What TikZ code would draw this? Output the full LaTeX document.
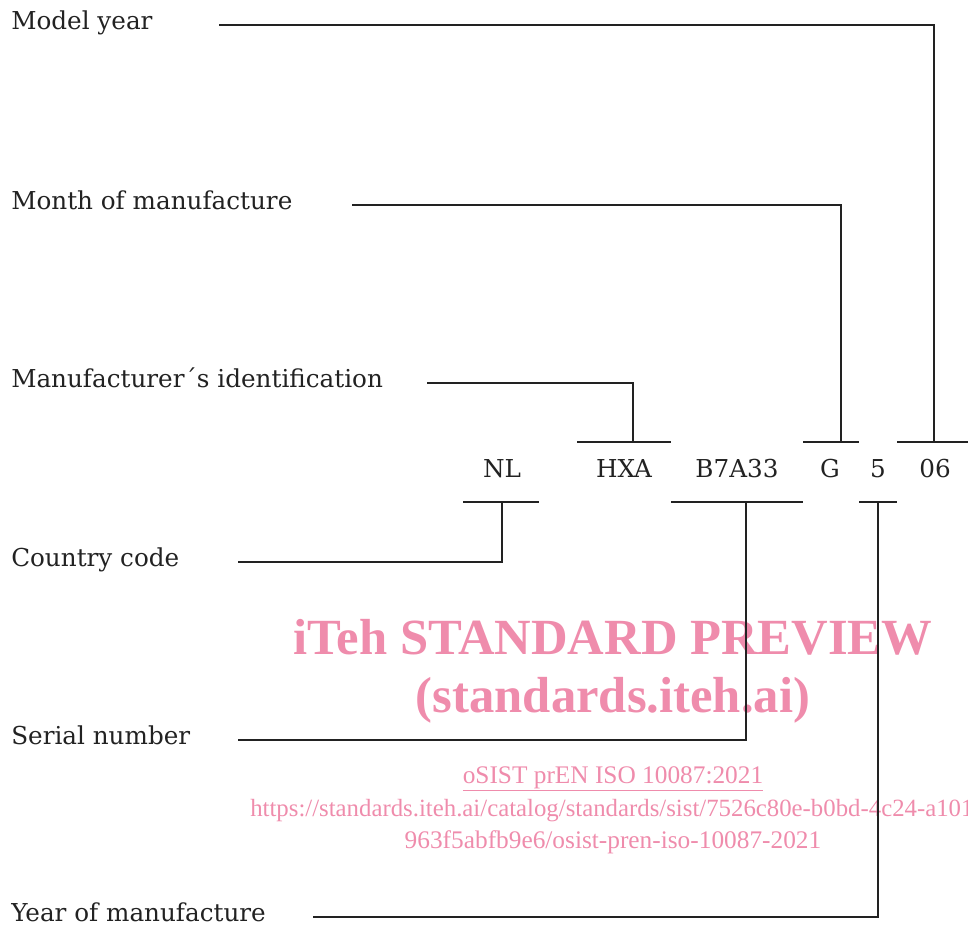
\documentclass[tikz,border=0pt]{standalone}
\usepackage{fontspec}
\setmainfont{DejaVu Serif}
\newfontfamily\wmfont{Liberation Serif}
\definecolor{wm}{RGB}{239,140,172}
\definecolor{ink}{RGB}{34,34,34}
\begin{document}
\begin{tikzpicture}[x=0.75pt,y=-0.75pt,
  lab/.style={anchor=base west,inner sep=0pt,text=ink,font=\fontsize{18.5pt}{22pt}\selectfont},
  code/.style={anchor=base,inner sep=0pt,text=ink,font=\fontsize{18.5pt}{22pt}\selectfont},
  wmbig/.style={anchor=base,inner sep=0pt,text=wm,font=\wmfont\bfseries\fontsize{38pt}{44pt}\selectfont},
  wmsmall/.style={inner sep=0pt,text=wm,font=\wmfont\fontsize{19pt}{22pt}\selectfont},
  ln/.style={draw=ink,line width=0.9pt}]
\useasboundingbox (0,0) rectangle (968,926);
% watermark
\node[wmbig] (w1) at (613,654) {iTeh STANDARD PREVIEW};
\node[wmbig] (w2) at (613,712) {(standards.iteh.ai)};
\node[wmsmall,anchor=base] (w3) at (613,783) {\underline{oSIST prEN ISO 10087:2021}};
\node[wmsmall,anchor=base west,font=\wmfont\fontsize{18.6pt}{22pt}\selectfont] (w4) at (250,816) {https://standards.iteh.ai/catalog/standards/sist/7526c80e-b0bd-4c24-a101-};
\node[wmsmall,anchor=base] (w5) at (613,848) {963f5abfb9e6/osist-pren-iso-10087-2021};
% labels
\node[lab] (my) at (11,29) {Model year};
\node[lab] (mm) at (11,209) {Month of manufacture};
\node[lab] (mi) at (11,387) {Manufacturer´s identification};
\node[lab] (cc) at (11,566) {Country code};
\node[lab] (sn) at (11,744) {Serial number};
\node[lab] (ym) at (11,921) {Year of manufacture};
% code
\node[code] (nl) at (502,477) {NL};
\node[code] (hxa) at (624,477) {HXA};
\node[code] (ser) at (737,477) {B7A33};
\node[code] (g) at (830,477) {G};
\node[code] (five) at (878,477) {5};
\node[code] (six) at (935,477) {06};
% bracket coordinates
\coordinate (hxaL) at (577,442); \coordinate (hxaR) at (671,442); \coordinate (hxaM) at (633,442);
\coordinate (gL) at (803,442); \coordinate (gR) at (859,442); \coordinate (gM) at (841,442);
\coordinate (sixL) at (897,442); \coordinate (sixR) at (968,442); \coordinate (sixM) at (934,442);
\coordinate (nlL) at (463,502); \coordinate (nlR) at (539,502); \coordinate (nlM) at (502,502);
\coordinate (serL) at (671,502); \coordinate (serR) at (803,502); \coordinate (serM) at (746,502);
\coordinate (fiveL) at (859,502); \coordinate (fiveR) at (897,502); \coordinate (fiveM) at (878,502);
% line starts
\coordinate (myS) at (219,25);
\coordinate (mmS) at (352,205);
\coordinate (miS) at (427,383);
\coordinate (ccS) at (238,562);
\coordinate (snS) at (238,740);
\coordinate (ymS) at (313,917);
% brackets
\draw[ln] (hxaL) -- (hxaR);
\draw[ln] (gL) -- (gR);
\draw[ln] (sixL) -- (sixR);
\draw[ln] (nlL) -- (nlR);
\draw[ln] (serL) -- (serR);
\draw[ln] (fiveL) -- (fiveR);
% connectors
\draw[ln] (myS) -| (sixM);
\draw[ln] (mmS) -| (gM);
\draw[ln] (miS) -| (hxaM);
\draw[ln] (ccS) -| (nlM);
\draw[ln] (snS) -| (serM);
\draw[ln] (ymS) -| (fiveM);
\end{tikzpicture}
\end{document}
